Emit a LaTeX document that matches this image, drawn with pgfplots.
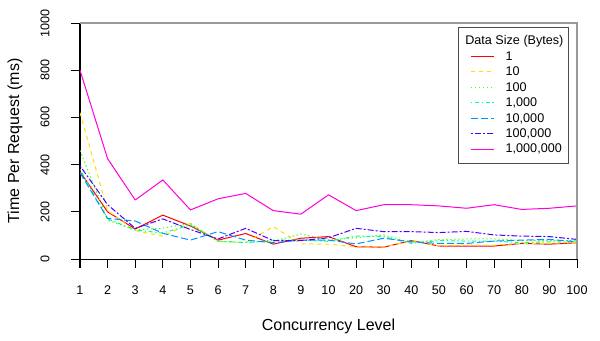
\documentclass[border=0pt]{standalone}
\usepackage{pgfplots}
\pgfplotsset{compat=1.18}
\usepackage{fontspec}
\setmainfont{Liberation Sans}

\definecolor{rbRed}{HTML}{FF0000}
\definecolor{rbYellow}{HTML}{FFDB00}
\definecolor{rbGreen}{HTML}{49FF00}
\definecolor{rbAqua}{HTML}{00FF92}
\definecolor{rbBlue}{HTML}{0092FF}
\definecolor{rbPurple}{HTML}{4900FF}
\definecolor{rbPink}{HTML}{FF00DB}

\begin{document}
\begin{tikzpicture}
\begin{axis}[
    scale only axis,
    width=372.75pt, height=177pt,
    xmin=0, xmax=18, ymin=0, ymax=1000,
    axis x line*=bottom, axis y line*=left,
    axis line style={black, line width=0.75pt, -},
    tick align=outside,
    major tick length=6.75pt,
    tick style={black, line width=0.75pt},
    xtick={0,...,18},
    xticklabels={1,2,3,4,5,6,7,8,9,10,20,30,40,50,60,70,80,90,100},
    ytick={0,200,400,600,800,1000},
    /pgf/number format/1000 sep={},
    /pgf/number format/assume math mode=true,
    ticklabel style={font=\fontsize{9.45}{11}\selectfont, inner sep=0pt},
    xticklabel style={anchor=north},
    xticklabel shift=13pt,
    yticklabel style={rotate=90, anchor=south},
    yticklabel shift=16pt,
    legend cell align=left,
    legend style={at={(rel axis cs:0.7606,0.983)}, anchor=north west,
        draw=black!70, line width=0.75pt,
        inner xsep=9pt, inner ysep=4.6pt,
        font=\fontsize{9.45}{11}\selectfont,
        nodes={text=black, text height=7pt, text depth=2pt, inner xsep=0pt, inner ysep=1.3pt},
        row sep=0pt, column sep=8.25pt},
    legend image code/.code={%
        \draw[#1, line cap=butt, line width=0.9pt] (0pt,0.4pt) -- (17.25pt,0.4pt);},
    every axis plot/.append style={line width=0.75pt, line join=round},
]
\addlegendimage{empty legend}
\addlegendentry{\makebox[0pt][l]{\hspace*{-30.75pt}Data Size (Bytes)}\rule[-6.9pt]{0pt}{1pt}}

% 1 byte
\addplot[color=rbRed, solid] coordinates {
(0,370) (1,200) (2,127) (3,186) (4,140) (5,80) (6,108) (7,63) (8,88) (9,95)
(10,52) (11,50) (12,78) (13,55) (14,55) (15,55) (16,66) (17,63) (18,69)};
\addlegendentry{1}
% 10 bytes
\addplot[color=rbYellow, dash pattern=on 3pt off 3pt] coordinates {
(0,620) (1,205) (2,120) (3,97) (4,151) (5,75) (6,69) (7,137) (8,64) (9,63)
(10,52) (11,50) (12,78) (13,55) (14,59) (15,59) (16,66) (17,66) (18,71)};
\addlegendentry{10}
% 100 bytes
\addplot[color=rbGreen, dash pattern=on 1pt off 2pt] coordinates {
(0,460) (1,165) (2,123) (3,131) (4,150) (5,75) (6,70) (7,75) (8,106) (9,80)
(10,90) (11,102) (12,70) (13,82) (14,85) (15,85) (16,78) (17,78) (18,78)};
\addlegendentry{100}
% 1,000 bytes
\addplot[color=rbAqua, dash pattern=on 1pt off 2pt on 3pt off 2pt] coordinates {
(0,380) (1,170) (2,123) (3,110) (4,144) (5,76) (6,69) (7,80) (8,80) (9,75)
(10,97) (11,95) (12,66) (13,78) (14,76) (15,76) (16,69) (17,73) (18,73)};
\addlegendentry{1,000}
% 10,000 bytes
\addplot[color=rbBlue, dash pattern=on 5.25pt off 2.25pt] coordinates {
(0,365) (1,172) (2,161) (3,109) (4,80) (5,116) (6,80) (7,69) (8,80) (9,80)
(10,64) (11,88) (12,73) (13,66) (14,66) (15,76) (16,80) (17,83) (18,73)};
\addlegendentry{10,000}
% 100,000 bytes
\addplot[color=rbPurple, dash pattern=on 1.5pt off 1.5pt on 4.5pt off 1.5pt] coordinates {
(0,395) (1,230) (2,130) (3,170) (4,125) (5,85) (6,130) (7,78) (8,78) (9,90)
(10,130) (11,116) (12,116) (13,112) (14,117) (15,102) (16,97) (17,95) (18,83)};
\addlegendentry{100,000}
% 1,000,000 bytes
\addplot[color=rbPink, solid] coordinates {
(0,800) (1,425) (2,250) (3,335) (4,208) (5,255) (6,278) (7,205) (8,190) (9,272)
(10,205) (11,230) (12,230) (13,225) (14,215) (15,230) (16,210) (17,215) (18,225)};
\addlegendentry{1,000,000\hspace*{-3.75pt}}
\end{axis}
\draw[black!40, line width=1.1pt] (current axis.north west) -- (current axis.north east) -- (current axis.south east);
\node[font=\fontsize{12}{14}\selectfont] at ([yshift=-50.25pt]current axis.south) {Concurrency Level};
\node[font=\fontsize{12}{14}\selectfont, rotate=90] at ([xshift=-48.75pt]current axis.west) {Time Per Request (ms)};
\pgfresetboundingbox
\path ([shift={(-60pt,-60.75pt)}]current axis.south west) rectangle ([shift={(17.25pt,17.25pt)}]current axis.north east);
\end{tikzpicture}
\end{document}
